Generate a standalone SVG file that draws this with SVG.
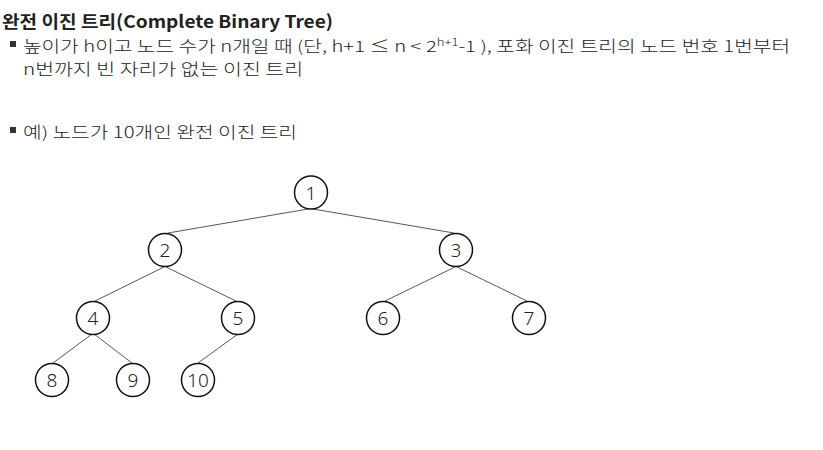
<svg xmlns="http://www.w3.org/2000/svg" width="823" height="450" viewBox="0 0 823 450">
<style>
.t{font-family:"Noto Sans CJK KR","Noto Sans",sans-serif;fill:#222;}
.title{font-size:17.5px;font-weight:bold;}
.body{font-size:15.5px;font-weight:300;}
.sup{font-size:10px;}
.node circle{fill:#fff;stroke:#111;stroke-width:1.5;}
.node text{font-family:"Noto Sans","Noto Sans CJK KR",sans-serif;font-size:19px;font-weight:300;fill:#222;text-anchor:middle;}
.edges line{stroke:#444;stroke-width:0.9;}
.bullet{fill:#333;}
</style>
<rect width="823" height="450" fill="#fff"/>
<text class="t title" x="2" y="28" textLength="331" lengthAdjust="spacingAndGlyphs">완전 이진 트리(Complete Binary Tree)</text>
<rect class="bullet" x="10" y="41" width="6" height="6"/>
<text class="t body" x="23" y="52" textLength="767" lengthAdjust="spacingAndGlyphs">높이가 h이고 노드 수가 n개일 때 (단, h+1 ≤ n &lt; 2<tspan class="sup" dy="-6">h+1</tspan><tspan dy="6">-1 ), 포화 이진 트리의 노드 번호 1번부터</tspan></text>
<text class="t body" x="23" y="75" textLength="280" lengthAdjust="spacingAndGlyphs">n번까지 빈 자리가 없는 이진 트리</text>
<rect class="bullet" x="10" y="127" width="6" height="6"/>
<text class="t body" x="23" y="138" textLength="274" lengthAdjust="spacingAndGlyphs">예) 노드가 10개인 완전 이진 트리</text>
<g class="edges">
<line x1="308" y1="209" x2="168" y2="233"/>
<line x1="313" y1="209" x2="454" y2="233"/>
<line x1="164" y1="267" x2="95" y2="301"/>
<line x1="166" y1="267" x2="236" y2="301"/>
<line x1="455" y1="267" x2="385" y2="301"/>
<line x1="457" y1="267" x2="527" y2="301"/>
<line x1="92" y1="334" x2="53" y2="363"/>
<line x1="94" y1="334" x2="132" y2="363"/>
<line x1="238" y1="334" x2="198" y2="363"/>
</g>
<g id="n1" class="node"><circle cx="311" cy="192.5" r="16.5"/><text x="311" y="199.5">1</text></g>
<g id="n2" class="node"><circle cx="165" cy="250" r="16.5"/><text x="165" y="257">2</text></g>
<g id="n3" class="node"><circle cx="456" cy="250" r="16.5"/><text x="456" y="257">3</text></g>
<g id="n4" class="node"><circle cx="93" cy="318" r="16.5"/><text x="93" y="325">4</text></g>
<g id="n5" class="node"><circle cx="238" cy="318" r="16.5"/><text x="238" y="325">5</text></g>
<g id="n6" class="node"><circle cx="383" cy="318" r="16.5"/><text x="383" y="325">6</text></g>
<g id="n7" class="node"><circle cx="529" cy="318" r="16.5"/><text x="529" y="325">7</text></g>
<g id="n8" class="node"><circle cx="52" cy="380" r="16.5"/><text x="52" y="387">8</text></g>
<g id="n9" class="node"><circle cx="133" cy="380" r="16.5"/><text x="133" y="387">9</text></g>
<g id="n10" class="node"><circle cx="198" cy="380" r="16.5"/><text x="198" y="387">10</text></g>
</svg>
